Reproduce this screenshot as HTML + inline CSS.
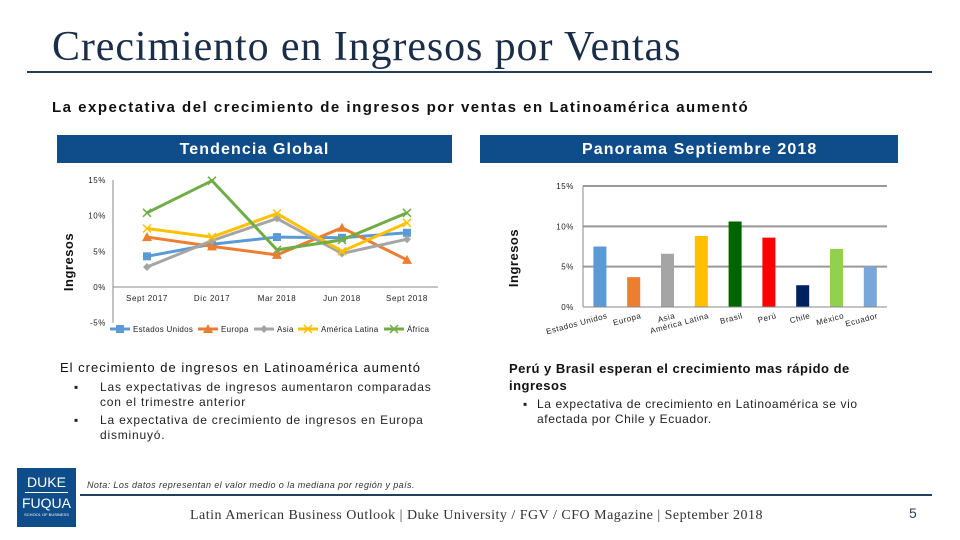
<!DOCTYPE html>
<html><head><meta charset="utf-8"><style>
body{margin:0;width:960px;height:540px;background:#fff;position:relative;overflow:hidden;font-family:"Liberation Sans",sans-serif}
.a{position:absolute}
.b{position:relative;padding-left:26px}
.b:before{content:"▪";position:absolute;left:0;top:0}
</style></head><body>
<div class="a" style="left:52px;top:23px;font-family:'Liberation Serif',serif;font-size:42px;letter-spacing:0.9px;color:#1a2e4a;white-space:nowrap">Crecimiento en Ingresos por Ventas</div>
<div class="a" style="left:27px;top:71px;width:905px;height:2px;background:#1f3f5f"></div>
<div class="a" style="left:52px;top:99px;font-size:15px;letter-spacing:1.5px;font-weight:bold;color:#111;white-space:nowrap">La expectativa del crecimiento de ingresos por ventas en Latinoamérica aumentó</div>
<div class="a" style="left:57px;top:135px;width:395px;height:28px;background:#0f4c8a;color:#fff;font-weight:bold;font-size:16px;letter-spacing:1.1px;text-align:center;line-height:30px">Tendencia Global</div>
<div class="a" style="left:480px;top:135px;width:418px;height:28px;background:#0f4c8a;color:#fff;font-weight:bold;font-size:16px;letter-spacing:1.1px;line-height:30px;padding-left:102px;box-sizing:border-box">Panorama Septiembre 2018</div>
<svg class="a" style="left:0;top:0" width="960" height="540" id="svg"></svg>
<div class="a" style="left:60px;top:360px;font-size:13px;letter-spacing:1px;color:#111;white-space:nowrap">El crecimiento de ingresos en Latinoamérica aumentó</div>
<div class="a" style="left:74px;top:380px;font-size:12px;letter-spacing:0.8px;color:#222;line-height:15px;width:372px">
<div class="b">Las expectativas de ingresos aumentaron comparadas con el trimestre anterior</div>
<div class="b" style="margin-top:3px">La expectativa de crecimiento de ingresos en Europa disminuyó.</div></div>
<div class="a" style="left:509px;top:360px;width:360px;font-size:13px;letter-spacing:0.5px;font-weight:bold;color:#111;line-height:17px">Perú y Brasil esperan el crecimiento mas rápido de ingresos</div>
<div class="a" style="left:523px;top:397px;width:340px;font-size:12px;letter-spacing:0.6px;color:#222;line-height:15px"><div class="b" style="padding-left:14px">La expectativa de crecimiento en Latinoamérica se vio afectada por Chile y Ecuador.</div></div>
<div class="a" style="left:17px;top:468px;width:59px;height:59px;background:#0f4c8a;color:#fff;font-size:14px;text-align:center;line-height:16px"><div style="margin-top:6px">DUKE</div><div style="height:1px;background:#fff;margin:2px 8px"></div><div>FUQUA</div><div style="font-size:4px;line-height:8px">SCHOOL OF BUSINESS</div></div>
<div class="a" style="left:87px;top:480px;font-size:9px;letter-spacing:0.4px;font-style:italic;color:#333">Nota: Los datos representan el valor medio o la mediana por región y país.</div>
<div class="a" style="left:80px;top:494px;width:852px;height:2px;background:#1f3f5f"></div>
<div class="a" style="left:190px;top:508px;font-family:'Liberation Serif',serif;font-size:14px;letter-spacing:0.5px;color:#333;white-space:nowrap">Latin American Business Outlook | Duke University / FGV / CFO Magazine | September 2018</div>
<div class="a" style="left:909px;top:505px;font-size:14px;color:#1f3f5f">5</div>
<script>
const lineCats=["Sept 2017","Dic 2017","Mar 2018","Jun 2018","Sept 2018"];
const seriesNames=["Estados Unidos","Europa","Asia","América Latina","África"];
const usVals=[4.3,6.0,7.0,6.9,7.6];
const euVals=[7.0,5.7,4.5,8.3,3.8];
const asVals=[2.8,6.5,9.6,4.7,6.7];
const alVals=[8.2,7.0,10.3,5.0,9.0];
const afVals=[10.4,14.9,5.2,6.6,10.4];
const lineTicks=[-5,0,5,10,15];
const barCats=["Estados Unidos","Europa","Asia","América Latina","Brasil","Perú","Chile","México","Ecuador"];
const barVals=[7.5,3.7,6.6,8.8,10.6,8.6,2.7,7.2,5.0];
const barTicks=[0,5,10,15];
const NS="http://www.w3.org/2000/svg",svg=document.getElementById('svg');
function mk(t,a,p){const e=document.createElementNS(NS,t);for(const k in a)e.setAttribute(k,a[k]);(p||svg).appendChild(e);return e;}
const lx=i=>147+i*65, ly=v=>287-v*107/15;
mk('line',{x1:113,y1:ly(0),x2:438,y2:ly(0),stroke:'#888'});
mk('line',{x1:113,y1:ly(-5),x2:113,y2:ly(15),stroke:'#888'});
lineTicks.forEach(t=>{const e=mk('text',{x:106,y:ly(t)+3,'font-size':8,'letter-spacing':0.6,'text-anchor':'end',fill:'#222'});e.textContent=t+'%';
});
lineCats.forEach((c,i)=>{const e=mk('text',{x:lx(i),y:301,'font-size':8,'letter-spacing':0.6,'text-anchor':'middle',fill:'#222'});e.textContent=c;
});
const all=[usVals,euVals,asVals,alVals,afVals],cols=['#5b9bd5','#ed7d31','#a5a5a5','#ffc000','#70ad47'];
function marker(x,y,s,c){
 if(s==0)mk('rect',{x:x-4,y:y-4,width:8,height:8,fill:c});
 else if(s==1)mk('polygon',{points:`${x},${y-5} ${x+5},${y+4} ${x-5},${y+4}`,fill:c});
 else if(s==2)mk('polygon',{points:`${x},${y-4} ${x+4},${y} ${x},${y+4} ${x-4},${y}`,fill:c});
 else {mk('path',{d:`M${x-4} ${y-4}L${x+4} ${y+4}M${x-4} ${y+4}L${x+4} ${y-4}`,stroke:c,'stroke-width':1.5});}
}
all.forEach((vals,s)=>{const p=mk('polyline',{points:vals.map((v,i)=>lx(i)+','+ly(v)).join(' '),fill:'none',stroke:cols[s],'stroke-width':3});

vals.forEach((v,i)=>marker(lx(i),ly(v),s,cols[s]));});
const lgx=[110,198,254,298,384];
seriesNames.forEach((n,s)=>{const x=lgx[s],y=329;mk('line',{x1:x,y1:y,x2:x+20,y2:y,stroke:cols[s],'stroke-width':3});marker(x+10,y,s,cols[s]);
const e=mk('text',{x:x+23,y:y+3,'font-size':8,'letter-spacing':0.3,fill:'#222'});e.textContent=n;});
let yt=mk('text',{x:0,y:0,'font-size':13,'font-weight':'bold','letter-spacing':0.5,transform:'translate(73,262) rotate(-90)','text-anchor':'middle',fill:'#111'});yt.textContent='Ingresos';
const bw=33.8,bx=i=>583+bw*(i+0.5),by=v=>307-v*121/15;
barTicks.forEach(t=>{if(t>0)mk('line',{x1:583,y1:by(t),x2:887,y2:by(t),stroke:'#999','stroke-width':2});
const e=mk('text',{x:574,y:by(t)+3,'font-size':8,'letter-spacing':0.6,'text-anchor':'end',fill:'#222'});e.textContent=t+'%';});
const bcols=['#5b9bd5','#ed7d31','#a5a5a5','#ffc000','#006400','#ff0000','#002060','#92d050','#7aa7d9'];
barVals.forEach((v,i)=>{const r=mk('rect',{x:bx(i)-6.5,y:by(v),width:13,height:by(0)-by(v),fill:bcols[i]});
});
mk('line',{x1:583,y1:by(0),x2:887,y2:by(0),stroke:'#888'});
mk('line',{x1:583,y1:by(0),x2:583,y2:by(15),stroke:'#888'});
barCats.forEach((c,i)=>{const e=mk('text',{x:0,y:0,'font-size':8,'letter-spacing':0.5,'text-anchor':'end',fill:'#222',transform:`translate(${bx(i)+8},${318}) rotate(-15)`});e.textContent=c;
});
yt=mk('text',{x:0,y:0,'font-size':13,'font-weight':'bold','letter-spacing':0.5,transform:'translate(518,258) rotate(-90)','text-anchor':'middle',fill:'#111'});yt.textContent='Ingresos';
</script>
</body></html>
